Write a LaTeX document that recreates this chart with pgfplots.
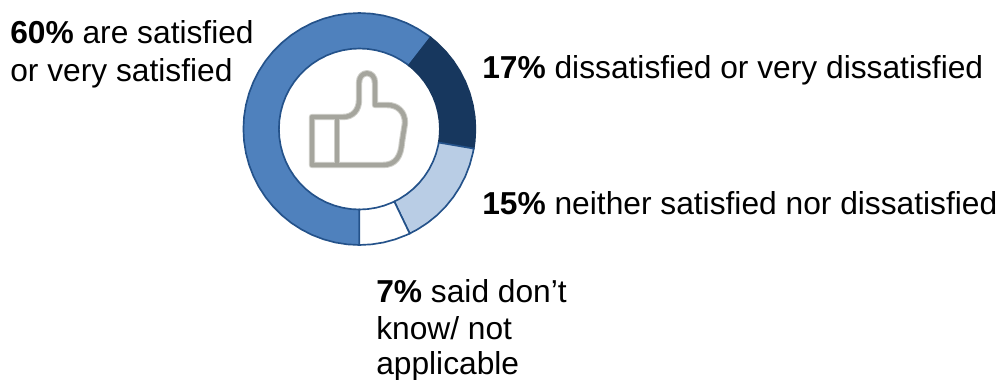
\documentclass[border=0pt]{standalone}
\usepackage{fontspec}
\setmainfont{Liberation Sans}
\usepackage{pgfplots}
\pgfplotsset{compat=1.18}
\usepgfplotslibrary{polar}
\definecolor{ringedge}{HTML}{24528A}
\definecolor{satblue}{HTML}{4F81BD}
\definecolor{disblue}{HTML}{17375E}
\definecolor{neiblue}{HTML}{B9CDE5}
\definecolor{thumbgrey}{HTML}{A5A59D}
\definecolor{thumbsoft}{HTML}{CFCFCA}
\newcommand{\lab}[3]{\node[anchor=base west,inner sep=0pt,text=black,font=\fontsize{23.8}{28}\selectfont] at (#1,#2) {#3};}
\begin{document}
\begin{tikzpicture}
\path[use as bounding box] (0pt,0pt) rectangle (750pt,-284.25pt);
% Ring of 60, 17, 15 and 7 per cent, clockwise, each sector as angle/radius pairs
\begin{polaraxis}[
  at={(269.55pt,-96.75pt)}, anchor=center,
  scale only axis, width=174.75pt, height=174.75pt,
  hide axis, clip=false,
  xmin=0, xmax=360, ymin=0, ymax=116.5,
]
\addplot[draw=ringedge, line width=1.25pt, fill=satblue] coordinates {
(270,116)(264,116)(258,116)(252,116)(246,116)(240,116)(234,116)(228,116)(222,116)(216,116)(210,116)(204,116)(198,116)(192,116)(186,116)(180,116)(174,116)(168,116)(162,116)(156,116)(150,116)(144,116)(138,116)(132,116)(126,116)(120,116)(114,116)(108,116)(102,116)(96,116)(90,116)(84,116)(78,116)(72,116)(66,116)(60,116)(54,116)(52.1,116)
(52.1,80.5)(54,80.5)(60,80.5)(66,80.5)(72,80.5)(78,80.5)(84,80.5)(90,80.5)(96,80.5)(102,80.5)(108,80.5)(114,80.5)(120,80.5)(126,80.5)(132,80.5)(138,80.5)(144,80.5)(150,80.5)(156,80.5)(162,80.5)(168,80.5)(174,80.5)(180,80.5)(186,80.5)(192,80.5)(198,80.5)(204,80.5)(210,80.5)(216,80.5)(222,80.5)(228,80.5)(234,80.5)(240,80.5)(246,80.5)(252,80.5)(258,80.5)(264,80.5)(270,80.5)
} -- cycle;
\addplot[draw=disblue, line width=1.25pt, fill=disblue] coordinates {
(52.1,116)(48,116)(42,116)(36,116)(30,116)(24,116)(18,116)(12,116)(6,116)(0,116)(-6,116)(-9.7,116)
(-9.7,80.5)(-6,80.5)(0,80.5)(6,80.5)(12,80.5)(18,80.5)(24,80.5)(30,80.5)(36,80.5)(42,80.5)(48,80.5)(52.1,80.5)
} -- cycle;
\addplot[draw=ringedge, line width=1.25pt, fill=neiblue] coordinates {
(-9.7,116)(-12,116)(-18,116)(-24,116)(-30,116)(-36,116)(-42,116)(-48,116)(-54,116)(-60,116)(-64.3,116)
(-64.3,80.5)(-60,80.5)(-54,80.5)(-48,80.5)(-42,80.5)(-36,80.5)(-30,80.5)(-24,80.5)(-18,80.5)(-12,80.5)(-9.7,80.5)
} -- cycle;
\addplot[draw=ringedge, line width=1.25pt, fill=white] coordinates {
(-64.3,116)(-66,116)(-72,116)(-78,116)(-84,116)(-90,116)
(-90,80.5)(-84,80.5)(-78,80.5)(-72,80.5)(-66,80.5)(-64.3,80.5)
} -- cycle;
\end{polaraxis}
\begin{scope}[x=0.75pt,y=-0.75pt]
% Thumbs-up symbol in the middle of the ring
\foreach \c/\w in {thumbsoft/4.8pt,thumbgrey/3.3pt}{
  \draw[\c, line width=\w, line join=round]
    (312,117) -- (343,117) .. controls (353,117) and (359,110) .. (359,100)
    -- (359,83) .. controls (359,70) and (375,70) .. (375,83)
    -- (375,105) -- (387,105) .. controls (398,105) and (405,112) .. (405,123)
    -- (402,142) .. controls (401,156) and (396,165) .. (383,165)
    -- (312,165) -- cycle;
  \draw[\c, line width=\w] (337,117) -- (337,165);
}
% Labels
\lab{10}{43}{\textbf{60\%} are satisfied}
\lab{10}{81}{or very satisfied}
\lab{482}{78}{\textbf{17\%} dissatisfied or very dissatisfied}
\lab{482}{214}{\textbf{15\%} neither satisfied nor dissatisfied}
\lab{376}{302}{\textbf{7\%} said don’t}
\lab{376}{339}{know/ not}
\lab{376}{374}{applicable}
\end{scope}
\end{tikzpicture}
\end{document}
